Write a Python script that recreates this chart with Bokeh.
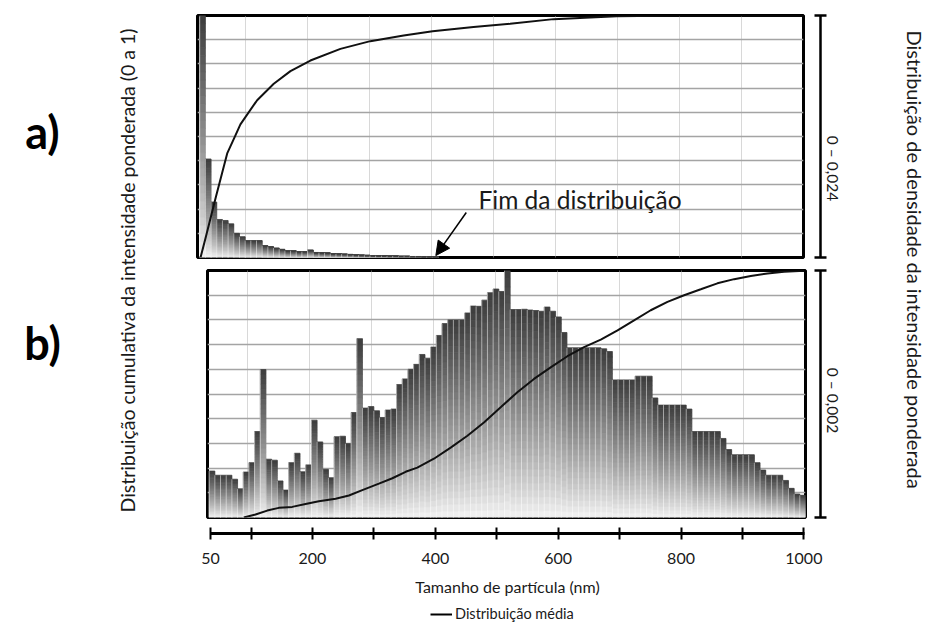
import math
from bokeh.plotting import figure
from bokeh.layouts import row, column
from bokeh.models import (Range1d, Grid, FixedTicker, LinearAxis, Label, Arrow,
                          NormalHead, ColumnDataSource, Legend, LegendItem)
from bokeh.core.properties import value
from bokeh.embed import file_html
from bokeh.resources import INLINE

FONT = "Lato"

# ---------------- data ----------------
BIN_WIDTH = 9.155          # nm, histogram bin width
TOP_BIN_START = 25.4       # nm, first bin edge (panel a)
BOT_BIN_START = 38.7       # nm, first bin edge (panel b)

TOP_SCALE_MAX = 24         # panel a) density full scale, x 10^-3 (0 - 0,024)
BOT_SCALE_MAX = 20         # panel b) density full scale, x 10^-4 (0 - 0,002)

# panel a) density, x 10^-3
TOP_DENSITY = [24.0, 9.77, 5.50, 3.77, 3.67, 3.34, 2.40, 2.06, 1.68, 1.68,
               1.68, 1.18, 1.08, 0.94, 0.82, 0.67, 0.67, 0.58, 0.58, 0.74,
               0.50, 0.48, 0.46, 0.38, 0.36, 0.34, 0.31, 0.26, 0.24, 0.22,
               0.19, 0.17, 0.17, 0.14, 0.14, 0.12, 0.12, 0.10, 0.10, 0.07,
               0.07, 0.05]

# panel b) density, x 10^-4
BOT_DENSITY = [3.76, 3.42, 3.42, 3.42, 3.10, 2.32, 3.68, 4.44, 6.96, 11.98,
               4.72, 4.64, 2.96, 2.22, 4.44, 5.20, 3.70, 4.26, 7.88, 6.12,
               3.90, 3.22, 6.54, 6.58, 5.98, 8.50, 14.48, 8.86, 8.98, 8.64,
               8.10, 8.70, 8.78, 10.76, 11.22, 12.00, 12.40, 13.20, 12.90, 13.80,
               14.74, 15.70, 16.00, 16.00, 16.00, 16.56, 17.12, 17.10, 17.60, 18.20,
               18.50, 18.30, 20.00, 16.84, 16.84, 16.86, 16.80, 16.76, 16.70, 17.04,
               16.70, 16.24, 14.98, 13.74, 13.74, 13.74, 13.74, 13.74, 13.74, 13.66,
               13.44, 11.14, 11.14, 11.14, 11.14, 11.44, 11.44, 11.44, 9.68, 9.10,
               9.10, 9.10, 9.10, 9.10, 8.78, 6.96, 6.96, 6.96, 6.96, 6.96,
               6.40, 5.50, 5.08, 5.08, 5.08, 5.08, 4.44, 3.84, 3.42, 3.42,
               3.42, 3.00, 2.36, 1.90, 1.80]

# cumulative distributions (0 a 1)
TOP_CUM_X = [26.7, 34.7, 45.5, 50.9, 61.6, 69.7, 83.0, 91.0, 118.0, 144.8,
             171.7, 203.9, 252.3, 300.6, 354.3, 401.0, 467.0, 526.0, 596.0,
             698.0, 800.0, 1000.0]
TOP_CUM_Y = [0.0, 0.08, 0.19, 0.245, 0.35, 0.43, 0.505, 0.55, 0.65, 0.718,
             0.77, 0.814, 0.862, 0.894, 0.917, 0.935, 0.952, 0.966, 0.985,
             0.997, 1.0, 1.0]

BOT_CUM_X = [94.5, 113.4, 132.3, 151.0, 172.5, 194.0, 215.5, 242.5, 264.0, 285.5,
             312.3, 334.0, 355.4, 374.2, 401.0, 428.0, 455.0, 481.6, 508.6, 535.5,
             562.3, 589.2, 616.2, 643.0, 670.0, 697.0, 723.6, 750.5, 777.5, 804.3,
             831.2, 858.0, 885.0, 911.8, 938.7, 965.5, 998.0]
BOT_CUM_Y = [0.0, 0.012, 0.028, 0.039, 0.043, 0.055, 0.066, 0.076, 0.089, 0.111,
             0.137, 0.159, 0.185, 0.202, 0.238, 0.283, 0.331, 0.385, 0.446, 0.507,
             0.561, 0.608, 0.653, 0.69, 0.72, 0.758, 0.798, 0.839, 0.873, 0.90,
             0.924, 0.948, 0.965, 0.978, 0.988, 0.995, 0.999]

X_TICKS = [34, 200, 400, 600, 800, 1000]
X_TICK_LABELS = ["50", "200", "400", "600", "800", "1000"]
X_MINOR_TICKS = [100, 300, 500, 700, 900]
GRID_X = [100, 200, 300, 400, 500, 600, 700, 800, 900]
GRID_Y = [0.1, 0.2, 0.3, 0.4, 0.5, 0.6, 0.7, 0.8, 0.9]

TEXT = "#1a1a1a"


# ---------------- helpers ----------------
def gradient_source(start, width, heights, n=30):
    d = dict(left=[], right=[], bottom=[], top=[], color=[])
    for i, h in enumerate(heights):
        x0 = start + i * width
        for k in range(n):
            fm = (k + 0.5) / n
            g = int(round(245 - 185 * fm ** 0.85))
            d["left"].append(x0)
            d["right"].append(x0 + width)
            d["bottom"].append(h * k / n)
            d["top"].append(h * (k + 1) / n)
            d["color"].append("#%02x%02x%02x" % (g, g, g))
    return ColumnDataSource(d)


def edge_source(start, width, heights):
    return ColumnDataSource(dict(
        x=[start + i * width for i in range(len(heights))],
        top=list(heights),
        base=[0.0] * len(heights)))


def style_panel(p):
    p.outline_line_color = "black"
    p.outline_line_width = 3
    p.add_layout(Grid(dimension=0, ticker=FixedTicker(ticks=GRID_X),
                      grid_line_color="#b0b0b0", grid_line_width=1,
                      grid_line_dash="1 1"))
    p.add_layout(Grid(dimension=1, ticker=FixedTicker(ticks=GRID_Y),
                      grid_line_color="#a4a4a4", grid_line_width=1.4))


def draw_bars(p, start, heights):
    p.quad(left="left", right="right", bottom="bottom", top="top",
           fill_color="color", line_color="color", line_width=0.8,
           source=gradient_source(start, BIN_WIDTH, heights), y_range_name="dens")
    p.segment(x0="x", y0="base", x1="x", y1="top",
              source=edge_source(start, BIN_WIDTH, heights),
              line_color="white", line_alpha=0.5, line_width=1, y_range_name="dens")


def bracket_fig(ymax, text, frame_h, mb_top, mb_bottom, label_up):
    """Narrow figure whose left axis draws the I-shaped density scale bracket."""
    b = figure(frame_width=60, frame_height=frame_h, x_range=Range1d(0, 1),
               y_range=Range1d(0, ymax), x_axis_type=None, y_axis_type=None,
               toolbar_location=None, output_backend="svg",
               min_border_left=13, min_border_right=10,
               min_border_top=mb_top, min_border_bottom=mb_bottom)
    b.outline_line_color = None
    ax = LinearAxis(ticker=FixedTicker(ticks=[0, ymax]),
                    major_label_overrides={0: "", ymax: ""},
                    axis_line_width=2.5, axis_line_color="black",
                    major_tick_line_width=2.5, major_tick_line_color="black",
                    major_tick_in=6, major_tick_out=6, major_label_standoff=0,
                    minor_tick_line_color=None)
    b.add_layout(ax, "left")
    b.add_layout(Label(x=12, y=label_up, x_units="screen", y_units="screen",
                       text=text, angle=-math.pi / 2, text_align="center",
                       text_baseline="middle", text_font=FONT,
                       text_font_size="15.5px", text_color=TEXT))
    return b


# ---------------- panel a) ----------------
top = figure(frame_width=606, frame_height=242,
             x_range=Range1d(21.8, 999.2), y_range=Range1d(0, 1),
             x_axis_type=None, y_axis_type=None, toolbar_location=None,
             output_backend="svg", min_border_left=7, min_border_right=4,
             min_border_top=15, min_border_bottom=6)
top.extra_y_ranges = {"dens": Range1d(0, TOP_SCALE_MAX)}
style_panel(top)
draw_bars(top, TOP_BIN_START, TOP_DENSITY)
top.line(TOP_CUM_X, TOP_CUM_Y, line_color="#111111", line_width=2)
top.add_layout(Arrow(end=NormalHead(size=14, fill_color="black", line_color="black"),
                     x_start=455.3, y_start=0.186, x_end=406.2, y_end=0.008,
                     line_width=1.5, line_color="black"))
top.add_layout(Label(x=475, y=0.24, text="Fim da distribuição", text_font=FONT,
                     text_font_size="24.5px", text_baseline="middle",
                     text_align="left", text_color=TEXT))
top_br = bracket_fig(TOP_SCALE_MAX, "0 – 0,024", 242, 15, 6, 257 - 168)

# ---------------- panel b) ----------------
bot = figure(frame_width=598, frame_height=247,
             x_range=Range1d(36, 1000), y_range=Range1d(0, 1),
             x_axis_type=None, y_axis_type=None, toolbar_location=None,
             output_backend="svg", min_border_left=17, min_border_right=2,
             min_border_top=7, min_border_bottom=6)
bot.extra_y_ranges = {"dens": Range1d(0, BOT_SCALE_MAX)}
style_panel(bot)
draw_bars(bot, BOT_BIN_START, BOT_DENSITY)
bot.line(BOT_CUM_X, BOT_CUM_Y, line_color="#111111", line_width=2)
bot_br = bracket_fig(BOT_SCALE_MAX, "0 – 0,002", 247, 7, 6, 517 - 400)

# ---------------- shared x axis ----------------
xa = figure(frame_width=594, frame_height=7,
            x_range=Range1d(34, 1001), y_range=Range1d(0, 1),
            x_axis_type=None, y_axis_type=None, toolbar_location=None,
            output_backend="svg", min_border_left=20, min_border_right=86,
            min_border_top=3, min_border_bottom=67)
xa.outline_line_color = None
axis = LinearAxis(ticker=FixedTicker(ticks=X_TICKS, minor_ticks=X_MINOR_TICKS),
                  major_label_overrides=dict(zip(X_TICKS, X_TICK_LABELS)),
                  axis_line_width=3, axis_line_color="black",
                  major_tick_line_width=2, major_tick_in=6, major_tick_out=6,
                  minor_tick_line_width=2, minor_tick_in=6, minor_tick_out=6,
                  minor_tick_line_color="black",
                  major_label_text_font=FONT, major_label_text_font_size="16px",
                  major_label_text_color=TEXT, major_label_standoff=13,
                  axis_label="Tamanho de partícula (nm)", axis_label_text_font=FONT,
                  axis_label_text_font_size="16px", axis_label_text_font_style="normal",
                  axis_label_text_color=TEXT, axis_label_standoff=10)
xa.add_layout(axis, "below")

# ---------------- legend strip ----------------
lg = figure(width=700, height=26, x_range=Range1d(0, 1), y_range=Range1d(0, 1),
            x_axis_type=None, y_axis_type=None, toolbar_location=None,
            output_backend="svg", min_border=0)
lg.outline_line_color = None
proxy = lg.line(x=[float("nan")], y=[float("nan")], line_color="black", line_width=2)
legend = Legend(items=[LegendItem(label=value("Distribuição média"), renderers=[proxy])],
                orientation="horizontal", location=(240, 4), margin=0, padding=0,
                border_line_color=None, background_fill_alpha=0,
                glyph_width=22, glyph_height=16, label_standoff=3,
                label_text_font=FONT, label_text_font_size="14.5px",
                label_text_color=TEXT)
lg.add_layout(legend)

# ---------------- side texts ----------------
left = figure(width=190, height=626, x_range=Range1d(0, 1), y_range=Range1d(0, 1),
              x_axis_type=None, y_axis_type=None, toolbar_location=None,
              output_backend="svg", min_border=0)
left.outline_line_color = None
for txt, yc in (("a)", 131), ("b)", 342)):
    left.add_layout(Label(x=42, y=626 - yc, x_units="screen", y_units="screen", text=txt,
                          text_font=FONT, text_font_size="45px", text_font_style="bold",
                          text_align="center", text_baseline="middle", text_color="black"))
left.add_layout(Label(x=127, y=626 - 270, x_units="screen", y_units="screen",
                      text="Distribuição cumulativa da intensidade ponderada (0 a 1)",
                      angle=math.pi / 2, text_font=FONT, text_font_size="19.5px",
                      text_align="center", text_baseline="middle", text_color=TEXT))

right = figure(width=43, height=626, x_range=Range1d(0, 1), y_range=Range1d(0, 1),
               x_axis_type=None, y_axis_type=None, toolbar_location=None,
               output_backend="svg", min_border=0)
right.outline_line_color = None
right.add_layout(Label(x=24, y=626 - 259, x_units="screen", y_units="screen",
                       text="Distribuição de densidade da intensidade ponderada",
                       angle=-math.pi / 2, text_font=FONT, text_font_size="20px",
                       text_align="center", text_baseline="middle", text_color=TEXT))

layout = row(left,
             column(row(top, top_br), row(bot, bot_br), row(xa), row(lg)),
             right)

open("out.html", "w").write(file_html(layout, INLINE))
